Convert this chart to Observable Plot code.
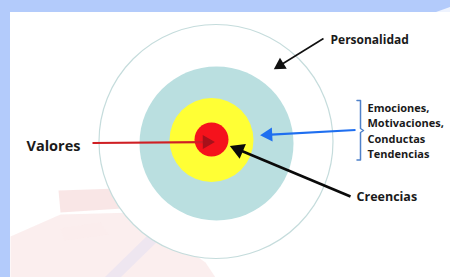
<!DOCTYPE html>
<html><head><meta charset="utf-8">
<script src="https://cdn.jsdelivr.net/npm/d3@7"></script>
<script src="https://cdn.jsdelivr.net/npm/@observablehq/plot@0.6"></script>
<style>html,body{margin:0;padding:0;background:#b3cbfb;overflow:hidden}</style>
</head><body><div id="chart"></div>
<script>
// Rings of the target (outer to inner)
const ringNames = ["Personalidad", "Emociones", "Creencias", "Valores"];
const ringCx = [215.5, 216, 211, 211];
const ringCy = [141, 143, 139.5, 139];
const ringR = [117, 77, 42, 17];
const ringFill = ["#ffffff", "#badfe0", "#ffff35", "#f5121c"];
const ringStroke = ["#c5dcdc", "none", "none", "none"];

// Labels
const labelText = ["Personalidad", "Valores", "Creencias", "Emociones,", "Motivaciones,", "Conductas", "Tendencias"];
const labelX = [330, 26, 356, 367, 367, 367, 367];
const labelY = [40, 145.5, 196.5, 107.5, 123, 138.5, 154];
const labelSize = [12, 14.5, 12.5, 11, 11, 11, 11];

// Arrows
const arrowX1 = [323, 92, 350, 355];
const arrowY1 = [38, 142.5, 196, 129.5];
const arrowX2 = [276, 211, 233, 263];
const arrowY2 = [67, 141.5, 147, 134.5];
const arrowColor = ["#111111", "#cf1f24", "#0a0a0a", "#1f6ff0"];
const headColor = ["#111111", "#a8101a", "#0a0a0a", "#1f6ff0"];
const arrowWidth = [1.6, 2.2, 2.6, 2.2];
const headSize = [4.8, 5.2, 6, 5.2];

// Bracket beside the list
const bracketX = [356.5, 360, 360, 363, 360, 360, 356.5];
const bracketY = [100, 100, 128, 130, 132, 159.5, 159.5];

// Faded background decoration (polygons)
const decoId = ["a","a","a","a", "b","b","b","b","b","b", "c","c","c","c", "d","d","d","d"];
const decoX = [58,118,122,60, 10,60,135,205,215,10, 104,150,162,120, 60,100,108,64];
const decoY = [190,188,208,212, 236,214,212,262,277,277, 277,232,236,277, 228,222,234,240];
const decoFill = {a:"#eeb6b6", b:"#f4cdcd", c:"#d6d6f4", d:"#fbeaea"};

const rings = ringNames.map((n,i)=>({n, x:ringCx[i], y:ringCy[i], r:ringR[i], fill:ringFill[i], stroke:ringStroke[i]}));
const labels = labelText.map((t,i)=>({t, x:labelX[i], y:labelY[i], s:labelSize[i]}));
const arrows = arrowX1.map((x1,i)=>{
  const x2 = arrowX2[i], y2 = arrowY2[i], y1 = arrowY1[i];
  const dx = x2 - x1, dy = y2 - y1, L = Math.hypot(dx, dy);
  const ux = dx / L, uy = dy / L, h = headSize[i];
  return {x1, y1, x2, y2, c:arrowColor[i], hc:headColor[i], w:arrowWidth[i], h,
    lx: x2 - ux * h * 1.5, ly: y2 - uy * h * 1.5,
    hx: x2 - ux * h * 0.9, hy: y2 - uy * h * 0.9,
    rot: Math.atan2(dx, -dy) * 180 / Math.PI};
});
const bracket = bracketX.map((x,i)=>({x, y:bracketY[i]}));
const deco = decoId.map((id,i)=>({id, x:decoX[i], y:decoY[i]}));
const panel = [{x1:10, x2:450, y1:12, y2:277}];
const corner = [{x:436, y1:12, y2:12}, {x:450, y1:7, y2:12}];

const plot = Plot.plot({
  width: 450, height: 277,
  margin: 0,
  x: {domain:[0,450], range:[0,450], axis:null},
  y: {domain:[0,277], range:[0,277], axis:null},
  r: {type:"identity"},
  style: {background:"transparent", fontFamily:"'Open Sans', Lato, sans-serif"},
  marks: [
    Plot.rect(panel, {x1:"x1", x2:"x2", y1:"y1", y2:"y2", fill:"#ffffff"}),
    Plot.areaY(corner, {x:"x", y1:"y1", y2:"y2", fill:"#eef3fe"}),
    ...["a","b","c","d"].map(id => Plot.line(deco.filter(d=>d.id===id), {x:"x", y:"y", curve:"linear-closed", fill:decoFill[id], fillOpacity:0.35, stroke:"none"})),
    Plot.dot(rings, {x:"x", y:"y", r:"r", fill:d=>d.fill, stroke:d=>d.stroke, strokeWidth:1.2}),
    Plot.line(bracket, {x:"x", y:"y", stroke:"#4f81c9", strokeWidth:1.5}),
    Plot.link(arrows, {x1:"x1", y1:"y1", x2:"lx", y2:"ly", stroke:d=>d.c, strokeWidth:d=>d.w}),
    Plot.dot(arrows, {x:"hx", y:"hy", r:"h", symbol:"triangle", rotate:"rot", fill:d=>d.hc, stroke:"none"}),
    Plot.text(labels, {x:"x", y:"y", text:"t", fontSize:"s", textAnchor:"start", fill:"#1a1a1a", fontWeight:"bold"})
  ]
});
document.getElementById("chart").appendChild(plot);
</script></body></html>
